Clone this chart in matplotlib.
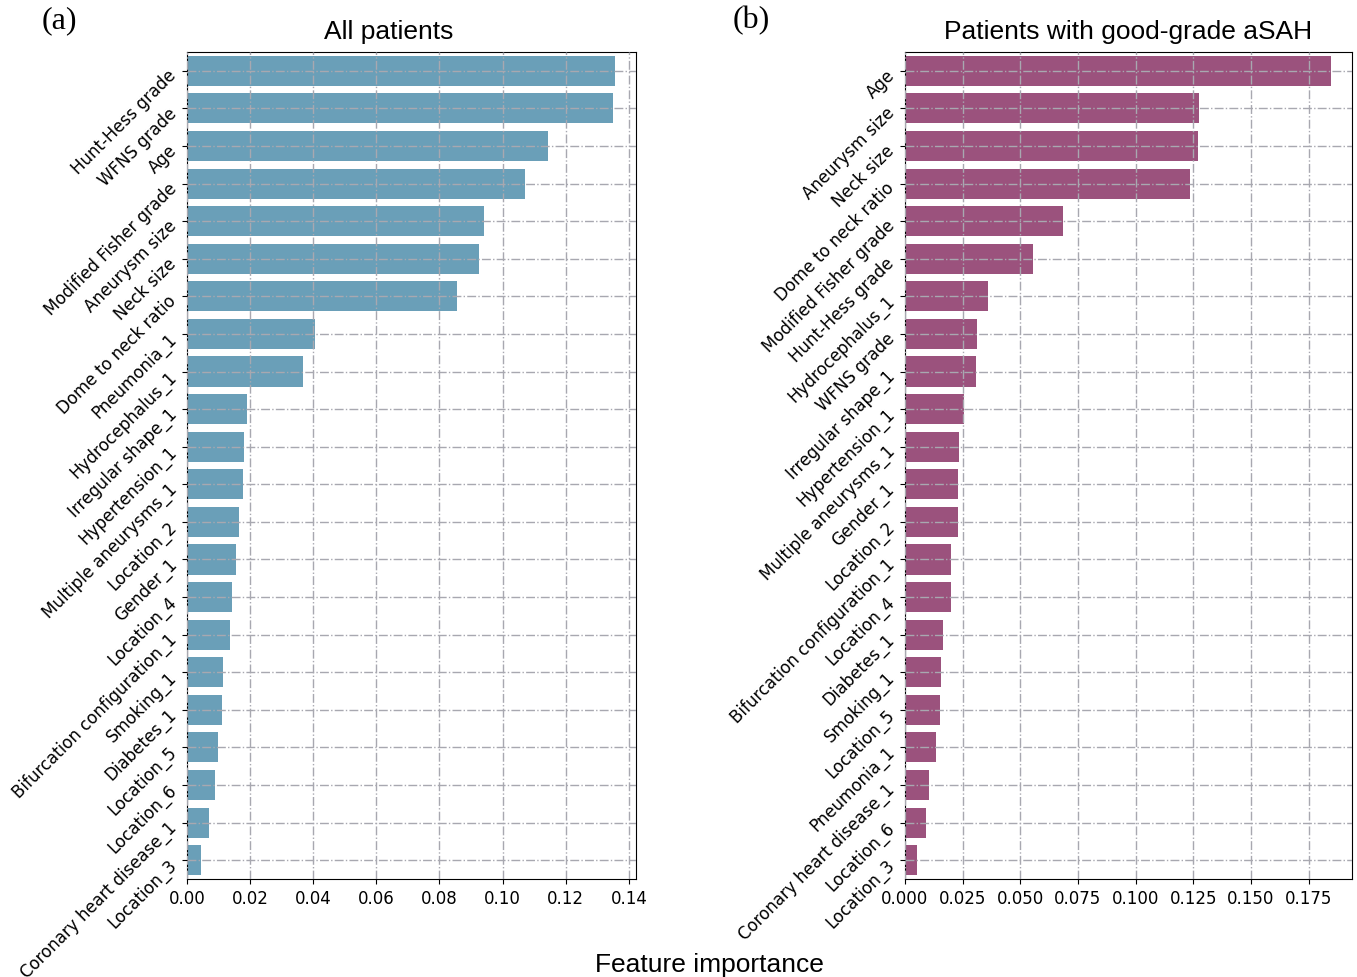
import matplotlib.pyplot as plt

# feature importances, sorted from most to least important
all_features = ['Hunt-Hess grade', 'WFNS grade', 'Age', 'Modified Fisher grade',
                'Aneurysm size', 'Neck size', 'Dome to neck ratio', 'Pneumonia_1',
                'Hydrocephalus_1', 'Irregular shape_1', 'Hypertension_1',
                'Multiple aneurysms_1', 'Location_2', 'Gender_1', 'Location_4',
                'Bifurcation configuration_1', 'Smoking_1', 'Diabetes_1',
                'Location_5', 'Location_6', 'Coronary heart disease_1', 'Location_3']
all_importance = [0.1355, 0.1350, 0.1143, 0.1070, 0.0940, 0.0925, 0.0856, 0.0407,
                  0.0366, 0.0190, 0.0180, 0.0177, 0.0164, 0.0155, 0.0142, 0.0136,
                  0.0114, 0.0110, 0.0097, 0.0088, 0.0069, 0.0044]

good_features = ['Age', 'Aneurysm size', 'Neck size', 'Dome to neck ratio',
                 'Modified Fisher grade', 'Hunt-Hess grade', 'Hydrocephalus_1',
                 'WFNS grade', 'Irregular shape_1', 'Hypertension_1',
                 'Multiple aneurysms_1', 'Gender_1', 'Location_2',
                 'Bifurcation configuration_1', 'Location_4', 'Diabetes_1',
                 'Smoking_1', 'Location_5', 'Pneumonia_1',
                 'Coronary heart disease_1', 'Location_6', 'Location_3']
good_importance = [0.1846, 0.1277, 0.1269, 0.1234, 0.0687, 0.0553, 0.0359, 0.0312,
                   0.0307, 0.0256, 0.0234, 0.0230, 0.0230, 0.0200, 0.0200, 0.0165,
                   0.0156, 0.0152, 0.0135, 0.0105, 0.0092, 0.0053]


def plot_importance(ax, features, importance, color, title, title_x):
    pos = range(len(features))
    ax.barh(pos, importance, height=0.8, color=color)
    ax.set_ylim(len(features) - 0.5, -0.5)
    ax.set_yticks(pos)
    ax.set_yticklabels(features, rotation=45, ha='right', rotation_mode='anchor')
    ax.tick_params(labelsize=12)
    ax.tick_params(axis='y', pad=7)
    ax.grid(True, linestyle='-.', color='#a8a8b0', linewidth=1)
    ax.set_axisbelow(False)
    ax.set_title(title, fontsize=19, family='Liberation Sans', pad=10, x=title_x)


fig = plt.figure(figsize=(13.57, 9.78), dpi=100)
ax1 = fig.add_axes([0.1378, 0.1002, 0.3309, 0.8456])
ax2 = fig.add_axes([0.6669, 0.1002, 0.3294, 0.8456])

plot_importance(ax1, all_features, all_importance, '#6a9fb8', 'All patients', 0.45)
plot_importance(ax2, good_features, good_importance, '#9b527d',
                'Patients with good-grade aSAH', 0.5)

fig.text(0.031, 0.979, '(a)', fontsize=23, family='Liberation Serif', va='center')
fig.text(0.540, 0.979, '(b)', fontsize=23, family='Liberation Serif', va='center')
fig.text(0.5225, 0.0135, 'Feature importance', fontsize=19, family='Liberation Sans',
         ha='center', va='center')

fig.savefig('out.png', dpi=100)
